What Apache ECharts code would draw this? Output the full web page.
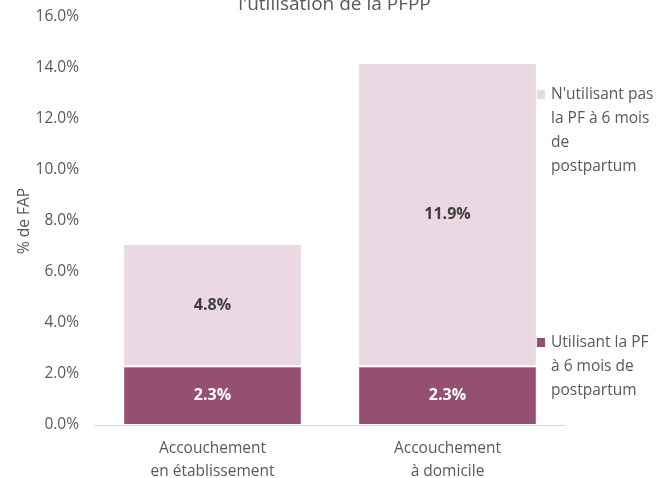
<!DOCTYPE html>
<html>
<head>
<meta charset="utf-8">
<script src="https://cdn.jsdelivr.net/npm/echarts@6/dist/echarts.min.js"></script>
<style>
  html, body { margin: 0; padding: 0; background: #fff; }
  #chart { width: 669px; height: 478px; }
</style>
</head>
<body>
<div id="chart"></div>
<script>
const categories = ['Accouchement\nen établissement', 'Accouchement\nà domicile']
const seriesNames = ['Utilisant la PF à 6 mois de postpartum', "N'utilisant pas la PF à 6 mois de postpartum"]
const legendLabels = ['Utilisant la PF\nà 6 mois de\npostpartum', "N'utilisant pas\nla PF à 6 mois\nde\npostpartum"]
const usingPF = [2.3, 2.3]
const notUsingPF = [4.8, 11.9]
const colors = ['#954f72', '#ead8e2']

const font = 'Open Sans'
const grey = '#595959'

const chart = echarts.init(document.getElementById('chart'))
chart.setOption({
  animation: false,
  title: {
    text: "l'utilisation de la PFPP",
    left: 'center',
    top: -10,
    textStyle: { fontFamily: font, fontSize: 19, fontWeight: 'normal', color: grey }
  },
  grid: { left: 95, right: 104, top: 17, bottom: 53, outerBoundsMode: 'none' },
  xAxis: {
    type: 'category',
    data: categories,
    axisTick: { show: false },
    axisLine: { lineStyle: { color: '#d9d9d9', width: 1 } },
    axisLabel: { color: grey, fontFamily: font, fontSize: 15.5, lineHeight: 23, margin: 12 }
  },
  yAxis: {
    type: 'value',
    min: 0,
    max: 16,
    interval: 2,
    name: '% de FAP',
    nameLocation: 'middle',
    nameGap: 62,
    nameMoveOverlap: false,
    nameTextStyle: { color: grey, fontFamily: font, fontSize: 15.5 },
    splitLine: { show: false },
    axisLine: { show: false },
    axisTick: { show: false },
    axisLabel: {
      color: grey, fontFamily: font, fontSize: 15.5, margin: 16,
      formatter: v => v.toFixed(1) + '%'
    }
  },
  series: [
    {
      name: seriesNames[0],
      type: 'bar',
      stack: 'total',
      data: usingPF,
      barCategoryGap: '24%',
      itemStyle: { color: colors[0], borderColor: '#fff', borderWidth: 1 },
      label: {
        show: true, position: 'inside', color: '#fff', fontFamily: font, fontSize: 16, fontWeight: 'bold',
        formatter: p => p.value.toFixed(1) + '%'
      }
    },
    {
      name: seriesNames[1],
      type: 'bar',
      stack: 'total',
      data: notUsingPF,
      itemStyle: { color: colors[1], borderColor: '#fff', borderWidth: 1 },
      label: {
        show: true, position: 'inside', color: '#404040', fontFamily: font, fontSize: 16, fontWeight: 'bold',
        formatter: p => p.value.toFixed(1) + '%'
      }
    }
  ],
  graphic: [
    { type: 'rect', left: 536, top: 90, shape: { width: 9, height: 9 }, style: { fill: colors[1] } },
    {
      type: 'text', left: 551, top: 83,
      style: { text: legendLabels[1], fill: grey, font: '15.5px "Open Sans"', lineHeight: 24 }
    },
    { type: 'rect', left: 536, top: 338, shape: { width: 9, height: 9 }, style: { fill: colors[0] } },
    {
      type: 'text', left: 551, top: 331,
      style: { text: legendLabels[0], fill: grey, font: '15.5px "Open Sans"', lineHeight: 24 }
    }
  ]
})
</script>
</body>
</html>
